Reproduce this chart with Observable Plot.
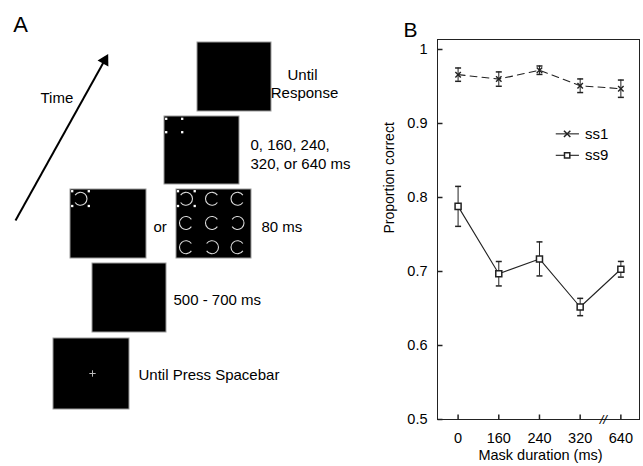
<!DOCTYPE html>
<html><head><meta charset="utf-8">
<script src="https://cdn.jsdelivr.net/npm/d3@7"></script>
<script src="https://cdn.jsdelivr.net/npm/@observablehq/plot@0.6"></script>
<style>
html,body{margin:0;padding:0;background:#fff;}
#wrap{position:relative;width:643px;height:466px;overflow:hidden;background:#fff;}
#a{position:absolute;left:0;top:0;}
#b{position:absolute;left:360px;top:0;}
</style></head><body>
<div id="wrap"><div id="a"></div><div id="b"></div></div>
<script>
// ---------- Panel B data ----------
const durations = ["0", "160", "240", "320", "640"];
const ss1 = [0.966, 0.960, 0.972, 0.951, 0.947];
const ss1Err = [0.009, 0.0097, 0.0057, 0.0092, 0.0117];
const ss9 = [0.788, 0.697, 0.717, 0.652, 0.703];
const ss9Err = [0.027, 0.0165, 0.023, 0.0117, 0.0106];
const yTicks = [0.5, 0.6, 0.7, 0.8, 0.9, 1];
const seriesNames = ["ss1", "ss9"];

// ---------- Panel A content (schematic) ----------
const screens = [[197, 42, 271, 111], [164, 116, 239, 184], [70, 189, 146, 258], [176, 189, 251, 258], [92, 263, 166, 332], [53, 338, 129, 409]];
const placeholderDots = [[165.7, 118.3], [181.7, 118.3], [165.7, 131.7], [181.7, 131.7],
  [71.7, 190.7], [88.3, 190.7], [71.7, 205.5], [88.3, 205.5],
  [177.5, 190.7], [194.2, 190.7], [177.5, 205.5], [194.2, 205.5]];
const rings = [[80, 198.3, 180],
  [185.5, 198.3, 180], [211.5, 198.3, 0], [237, 198.3, 0],
  [185.5, 222.5, 0], [211.5, 222.5, 0], [237, 222.5, 180],
  [185.5, 246.7, 0], [211.5, 246.7, 180], [237, 246.7, 0]];
const fixation = [[92, 373]];
const labelsCentered = [["Until", 302, 75], ["Response", 304, 93]];
const labelsLeft = [["0, 160, 240,", 250, 145], ["320, or 640 ms", 250, 164], ["or", 153, 227], ["80 ms", 261, 227],
  ["500 - 700 ms", 173, 300], ["Until Press Spacebar", 138, 375], ["Time", 40, 98]];
const timeArrow = [[15, 220, 104.2, 59.8]];
const arrowHead = [[104.2, 59.8, 29.1]];

const FONT = "'Liberation Sans', Arial, Helvetica, sans-serif";
const NARROW = "'Liberation Sans Narrow', 'Arial Narrow', 'Liberation Sans', sans-serif";

// custom symbols
const ringSym = {draw(ctx, size) {const r = Math.sqrt(size / Math.PI); const g = 0.6; ctx.moveTo(r * Math.cos(g), r * Math.sin(g)); ctx.arc(0, 0, r, g, 2 * Math.PI - g);}};
const capSym = {draw(ctx) {ctx.moveTo(-3, 0); ctx.lineTo(3, 0);}};
const tickRight = {draw(ctx) {ctx.moveTo(0, 0); ctx.lineTo(5, 0);}};
const tickUp = {draw(ctx) {ctx.moveTo(0, 0); ctx.lineTo(0, -5);}};

// ---------- Panel A ----------
const plotA = Plot.plot({
  width: 360, height: 466, margin: 0,
  x: {domain: [0, 360], range: [0, 360], axis: null},
  y: {domain: [0, 466], range: [0, 466], axis: null},
  style: {fontFamily: FONT, fontSize: "15px", background: "white", color: "black"},
  marks: [
    Plot.rect(screens, {x1: d => d[0], y1: d => d[1], x2: d => d[2], y2: d => d[3], fill: "black", stroke: "#9a9a9a", strokeWidth: 1}),
    Plot.dot(placeholderDots, {x: d => d[0], y: d => d[1], symbol: "square", r: 1.3, fill: "white"}),
    Plot.dot(rings, {x: d => d[0], y: d => d[1], rotate: d => d[2], symbol: ringSym, r: 6.5, fill: "none", stroke: "#dcdcdc", strokeWidth: 1.1}),
    Plot.dot(fixation, {x: d => d[0], y: d => d[1], symbol: "plus", r: 2.2, stroke: "#bbb", strokeWidth: 1}),
    Plot.link(timeArrow, {x1: d => d[0], y1: d => d[1], x2: d => d[2], y2: d => d[3], stroke: "black", strokeWidth: 2}),
    Plot.dot(arrowHead, {x: d => d[0], y: d => d[1], rotate: d => d[2], symbol: "triangle", r: 4.6, fill: "black", stroke: "none"}),
    Plot.text(labelsCentered, {x: d => d[1], y: d => d[2], text: d => d[0], textAnchor: "middle", fontSize: 15}),
    Plot.text(labelsLeft, {x: d => d[1], y: d => d[2], text: d => d[0], textAnchor: "start", fontSize: 15}),
    Plot.text(["A"], {x: 20, y: 24, fontSize: 22})
  ]
});
document.getElementById("a").appendChild(plotA);

// ---------- Panel B ----------
const s1 = durations.map((d, i) => ({i, v: ss1[i], e: ss1Err[i]}));
const s9 = durations.map((d, i) => ({i, v: ss9[i], e: ss9Err[i]}));
const legend = [
  {name: seriesNames[0], y: 0.886, dash: "3,3", sym: "times"},
  {name: seriesNames[1], y: 0.857, dash: null, sym: "square"}
];

const plotB = Plot.plot({
  width: 283, height: 466,
  marginLeft: 77, marginRight: 4, marginTop: 39, marginBottom: 47,
  style: {fontFamily: NARROW, fontSize: "14.5px", background: "white", color: "black"},
  x: {domain: [-0.506, 4.458], ticks: [0, 1, 2, 3, 4], tickFormat: i => durations[i], tickSize: 0, tickPadding: 13, label: null},
  y: {domain: [0.5, 1.0135], ticks: yTicks, tickFormat: d => String(d), tickSize: 0, tickPadding: 10, label: null},
  marks: [
    Plot.frame({stroke: "#222"}),
    Plot.dot(yTicks, {y: d => d, frameAnchor: "left", symbol: tickRight, fill: "none", stroke: "#222"}),
    Plot.dot([0, 1, 2, 3, 4], {x: d => d, frameAnchor: "bottom", symbol: tickUp, fill: "none", stroke: "#222"}),
    Plot.text(["//"], {x: 3.57, y: 0.5, fontSize: 13, fontFamily: FONT, fontStyle: "italic"}),
    // ss1
    Plot.ruleX(s1, {x: "i", y1: d => d.v - d.e, y2: d => d.v + d.e, stroke: "#222"}),
    Plot.dot(s1, {x: "i", y: d => d.v - d.e, symbol: capSym, fill: "none", stroke: "#222"}),
    Plot.dot(s1, {x: "i", y: d => d.v + d.e, symbol: capSym, fill: "none", stroke: "#222"}),
    Plot.line(s1, {x: "i", y: "v", stroke: "#222", strokeDasharray: "7,5", strokeWidth: 1.1}),
    Plot.dot(s1, {x: "i", y: "v", symbol: "times", r: 2.6, stroke: "#222", strokeWidth: 1.4}),
    // ss9
    Plot.ruleX(s9, {x: "i", y1: d => d.v - d.e, y2: d => d.v + d.e, stroke: "#222"}),
    Plot.dot(s9, {x: "i", y: d => d.v - d.e, symbol: capSym, fill: "none", stroke: "#222"}),
    Plot.dot(s9, {x: "i", y: d => d.v + d.e, symbol: capSym, fill: "none", stroke: "#222"}),
    Plot.line(s9, {x: "i", y: "v", stroke: "#222", strokeWidth: 1.1}),
    Plot.dot(s9, {x: "i", y: "v", symbol: "square", r: 3.4, fill: "white", stroke: "#222"}),
    // legend
    Plot.link(legend, {x1: 2.40, x2: 2.97, y1: "y", y2: "y", stroke: "#222", strokeDasharray: d => d.dash, strokeWidth: 1.1}),
    Plot.dot(legend, {x: 2.68, y: "y", symbol: d => d.sym, r: 3, fill: "white", stroke: "#222"}),
    Plot.text(legend, {x: 3.12, y: "y", text: "name", textAnchor: "start", fontSize: 15}),
    // axis titles and panel letter
    Plot.text(["Mask duration (ms)"], {frameAnchor: "bottom", dx: 2, dy: 40, fontSize: 14.5, fontFamily: FONT}),
    Plot.text(["Proportion correct"], {frameAnchor: "left", rotate: -90, dx: -48, dy: 4, fontSize: 14, fontFamily: FONT}),
    Plot.text(["B"], {frameAnchor: "top-left", dx: -34, dy: -17, fontSize: 21, fontFamily: FONT})
  ]
});
document.getElementById("b").appendChild(plotB);
</script>
</body></html>
